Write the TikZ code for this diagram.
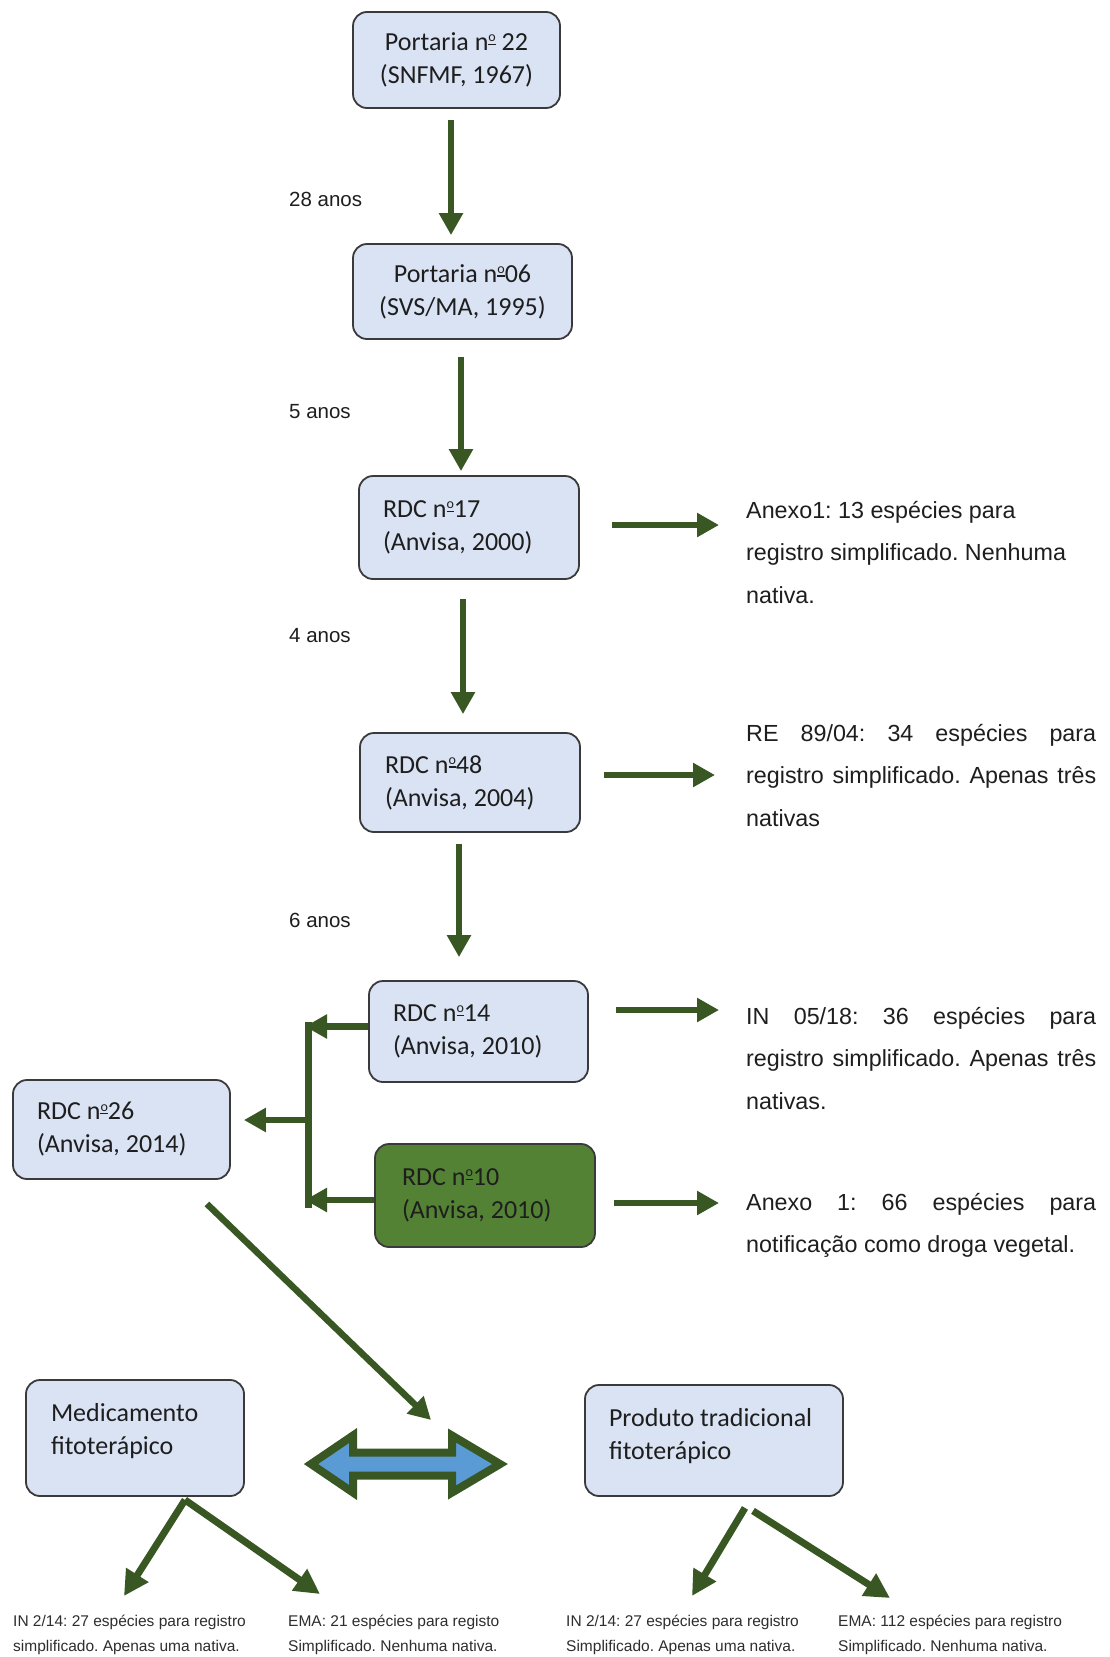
\documentclass[tikz,border=0pt]{standalone}
\usepackage{fontspec}
\setmainfont{Liberation Sans}
\newfontfamily\calibrifont{Carlito}
\usetikzlibrary{arrows.meta,calc}
\definecolor{boxfill}{HTML}{DAE3F3}
\definecolor{boxline}{HTML}{3A3A3A}
\definecolor{darkgreen}{HTML}{385723}
\definecolor{midgreen}{HTML}{548235}
\definecolor{arrowblue}{HTML}{5B9BD5}
\definecolor{shadowblue}{HTML}{AFC0D8}
\definecolor{txt}{HTML}{1E1E1E}
\definecolor{smalltxt}{HTML}{2E2E2E}
\newcommand{\ordm}{\raisebox{8.7pt}{\fontsize{14}{14}\selectfont o}\llap{\rule[5.5pt]{7.4pt}{1.5pt}}}
\begin{document}
\frenchspacing
\begin{tikzpicture}[x=1pt,y=-1pt,
  box/.style={draw=boxline, line width=1.8pt, rounded corners=14pt, fill=boxfill, text=txt,
    font=\calibrifont\fontsize{26}{33}\selectfont, inner ysep=0pt},
  lbox/.style={box, align=justify},
  arr/.style={draw=darkgreen, line width=6.5pt, -{Triangle[width=23pt,length=22pt]}},
  barr/.style={draw=darkgreen, line width=7pt, -{Triangle[width=25pt,length=25pt]}},
  rtext/.style={anchor=base west, inner sep=0pt, text=txt, text width=350pt, align=justify,
    font=\fontsize{23.3}{42.5}\selectfont},
  lbl/.style={anchor=base west, inner sep=0pt, text=txt, font=\fontsize{20.5}{24}\selectfont},
  btext/.style={anchor=base west, inner sep=0pt, text=smalltxt, text width=265pt, align=justify,
    font=\fontsize{15.5}{25}\selectfont}
]
\useasboundingbox (0,0) rectangle (1109,1657);
\fill[white] (0,0) rectangle (1109,1657);

% ---------- main column ----------
\node[box, minimum width=207pt, minimum height=96pt, align=center] (b1) at (456.5,60)
  {Portaria n\ordm\ 22\\(SNFMF, 1967)};
\node[box, minimum width=219pt, minimum height=95pt, align=center] (b2) at (462.5,291.5)
  {Portaria n\ordm 06\\(SVS/MA, 1995)};
\node[lbox, minimum height=103pt, text width=172pt, inner xsep=24pt] (b3) at (469,527.5)
  {\mbox{RDC n\ordm 17}\\\mbox{(Anvisa, 2000)}};
\node[lbox, minimum height=99pt, text width=170pt, inner xsep=25pt] (b4) at (470,782.5)
  {\mbox{RDC n\ordm 48}\\\mbox{(Anvisa, 2004)}};
\node[lbox, minimum height=101pt, text width=171pt, inner xsep=24pt] (b5) at (478.5,1031.5)
  {\mbox{RDC n\ordm 14}\\\mbox{(Anvisa, 2010)}};
\node[lbox, minimum height=99pt, text width=169pt, inner xsep=24pt] (b26) at (121.5,1129.5)
  {\mbox{RDC n\ordm 26}\\\mbox{(Anvisa, 2014)}};
\node[lbox, fill=midgreen, minimum height=103pt, text width=166pt, inner xsep=27pt] (b10) at (485,1195.5)
  {\mbox{RDC n\ordm 10}\\\mbox{(Anvisa, 2010)}};
\node[lbox, minimum height=116pt, text width=168pt, inner xsep=25pt] (med) at (135,1438)
  {\mbox{Medicamento}\\\mbox{fitoterápico}\rule[-18pt]{0pt}{18pt}};
\node[lbox, minimum height=111pt, text width=210pt, inner xsep=24pt] (prod) at (714,1440.5)
  {\mbox{Produto tradicional}\\\mbox{fitoterápico}\rule[-12.5pt]{0pt}{12.5pt}};

% ---------- interval labels ----------
\node[lbl] (l1) at (289,206) {28 anos};
\node[lbl] (l2) at (289,418) {5 anos};
\node[lbl] (l3) at (289,642) {4 anos};
\node[lbl] (l4) at (289,927) {6 anos};

% ---------- right-hand texts ----------
\node[rtext] (t3) at (746,518)
  {Anexo1: 13 espécies para\\registro simplificado. Nenhuma\\nativa.};
\node[rtext] (t4) at (746,741)
  {\makebox[350pt][s]{RE 89/04: 34 espécies para}\\\makebox[350pt][s]{registro simplificado. Apenas três}\\nativas};
\node[rtext] (t5) at (746,1024)
  {\makebox[350pt][s]{IN 05/18: 36 espécies para}\\\makebox[350pt][s]{registro simplificado. Apenas três}\\nativas.};
\node[rtext] (t10) at (746,1210)
  {\makebox[350pt][s]{Anexo 1: 66 espécies para}\\notificação como droga vegetal.};

% ---------- bottom texts ----------
\node[btext] (bt1) at (13,1626) {IN 2/14: 27 espécies para registro\\simplificado. Apenas uma nativa.};
\node[btext] (bt2) at (288,1626) {EMA: 21 espécies para registo\\Simplificado. Nenhuma nativa.};
\node[btext] (bt3) at (566,1626) {IN 2/14: 27 espécies para registro\\Simplificado. Apenas uma nativa.};
\node[btext] (bt4) at (838,1626) {EMA: 112 espécies para registro\\Simplificado. Nenhuma nativa.};

% ---------- vertical arrows ----------
\draw[arr] ([xshift=-5.5pt,yshift=-11pt]b1.south) -- ([xshift=-5.5pt,yshift=8pt]b1.south |- b2.north);
\draw[arr] ([xshift=-1.5pt,yshift=-17pt]b2.south) -- ([xshift=-1.5pt,yshift=4pt]b2.south |- b3.north);
\draw[arr] ([xshift=-6pt,yshift=-19pt]b3.south) -- ([xshift=-6pt,yshift=18pt]b3.south |- b4.north);
\draw[arr] ([xshift=-11pt,yshift=-11pt]b4.south) -- ([xshift=-11pt,yshift=23pt]b4.south |- b5.north);

% ---------- horizontal arrows to the texts ----------
\draw[arr] ([xshift=32pt,yshift=2.5pt]b3.east) -- ([xshift=-27pt,yshift=2.5pt]b3.east -| t3.west);
\draw[arr] ([xshift=23pt,yshift=7.5pt]b4.east) -- ([xshift=-31pt,yshift=7.5pt]b4.east -| t4.west);
\draw[arr] ([xshift=27pt,yshift=21.5pt]b5.east) -- ([xshift=-27pt,yshift=21.5pt]b5.east -| t5.west);
\draw[arr] ([xshift=18pt,yshift=-7.5pt]b10.east) -- ([xshift=-27pt,yshift=-7.5pt]b10.east -| t10.west);

% ---------- bracket to RDC 26 ----------
\coordinate (jn) at (308,1120);
\draw[draw=darkgreen, line width=7pt] (jn |- 0,1022) -- (jn |- 0,1208);
\draw[arr] ([yshift=5pt]b5.west) -- ([xshift=-3pt,yshift=5pt]b5.west -| jn);
\draw[arr] ([yshift=-4.5pt]b10.west) -- ([xshift=-3pt,yshift=-4.5pt]b10.west -| jn);
\draw[arr] (jn) -- ([xshift=13pt]jn -| b26.east);

% ---------- diagonal arrow to the double arrow ----------
\coordinate (dtip) at (431,1420);
\draw[arr] ([xshift=-24pt,yshift=-24pt]b26.south east) -- (dtip);

% ---------- double arrow ----------
\coordinate (dl) at (311,1464);
\coordinate (dr) at (500,1464);
\fill[shadowblue] ($(dl)+(3,3)$) -- ++(42,-28.5) -- ++(0,17) -- ++(99,0) -- ++(0,-17)
  -- ($(dr)+(3,3)$) -- ++(-48,28.5) -- ++(0,-17) -- ++(-99,0) -- ++(0,17) -- cycle;
\filldraw[fill=arrowblue, draw=darkgreen, line width=8pt, line join=miter]
  (dl) -- ++(42,-28.5) -- ++(0,17) -- ++(99,0) -- ++(0,-17)
  -- (dr) -- ++(-48,28.5) -- ++(0,-17) -- ++(-99,0) -- ++(0,17) -- cycle;

% ---------- bottom arrows ----------
\coordinate (m1) at (124,1596);
\coordinate (m2) at (320,1594);
\coordinate (p1) at (692,1596);
\coordinate (p2) at (890,1598);
\draw[barr] ([xshift=50pt,yshift=-3pt]med.south) -- (m1);
\draw[barr] ([xshift=50pt,yshift=-3pt]med.south) -- (m2);
\draw[barr] ([xshift=31pt,yshift=-11pt]prod.south) -- (p1);
\draw[barr] ([xshift=39pt,yshift=-14pt]prod.south) -- (p2);
\end{tikzpicture}
\end{document}
